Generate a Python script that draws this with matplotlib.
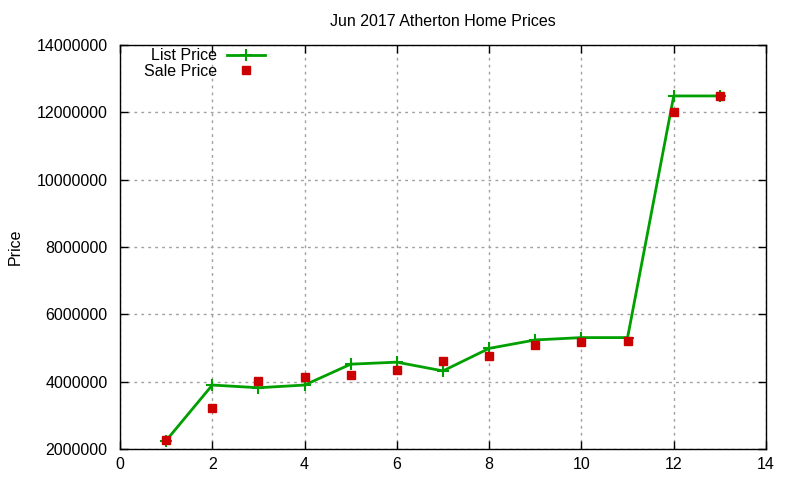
import matplotlib
matplotlib.use("Agg")
import matplotlib.pyplot as plt
from matplotlib.ticker import MultipleLocator, FuncFormatter

# Jun 2017 Atherton home prices
homes = [1, 2, 3, 4, 5, 6, 7, 8, 9, 10, 11, 12, 13]
listPrice = [2250000, 3900000, 3820000, 3900000, 4520000, 4580000, 4320000,
             4990000, 5240000, 5310000, 5310000, 12490000, 12490000]
salePrice = [2270000, 3230000, 4030000, 4150000, 4210000, 4360000, 4620000,
             4770000, 5100000, 5190000, 5210000, 12020000, 12490000]

plt.rcParams['font.family'] = ['Liberation Sans', 'DejaVu Sans']

fig = plt.figure(figsize=(8, 4.8), dpi=100)
ax = fig.add_axes([0.15, 0.0646, 0.8075, 0.8414])

ax.plot(homes, listPrice, color='#00a000', linewidth=2, marker='+',
        markersize=9, markeredgewidth=1.5, label="List Price")
ax.plot(homes, salePrice, linestyle='none', marker='s', color='#cc0000',
        markersize=6, label="Sale Price")

ax.set_xlim(0, 14)
ax.set_ylim(2000000, 14000000)
ax.xaxis.set_major_locator(MultipleLocator(2))
ax.yaxis.set_major_locator(MultipleLocator(2000000))
ax.yaxis.set_major_formatter(FuncFormatter(lambda v, p: f"{int(v)}"))
ax.tick_params(direction='in', top=True, right=True, length=6,
               labelsize=11.5, width=1)
ax.tick_params(axis='y', pad=9)
ax.tick_params(axis='x', pad=6)
ax.grid(True, color='#a0a0a0', linestyle=(0, (2, 3)), linewidth=1)
ax.set_axisbelow(True)
for s in ax.spines.values():
    s.set_linewidth(1)

ax.set_ylabel("Price", fontsize=11.5, labelpad=10)
ax.set_title("Jun 2017 Atherton Home Prices", fontsize=11.5, pad=14)

ax.legend(loc='upper left', markerfirst=False, frameon=False, fontsize=11.5,
          handlelength=2.4, borderaxespad=0.1, handletextpad=0.6,
          labelspacing=0.05, bbox_to_anchor=(0.025, 1.012))

fig.savefig("out.png", dpi=100)
